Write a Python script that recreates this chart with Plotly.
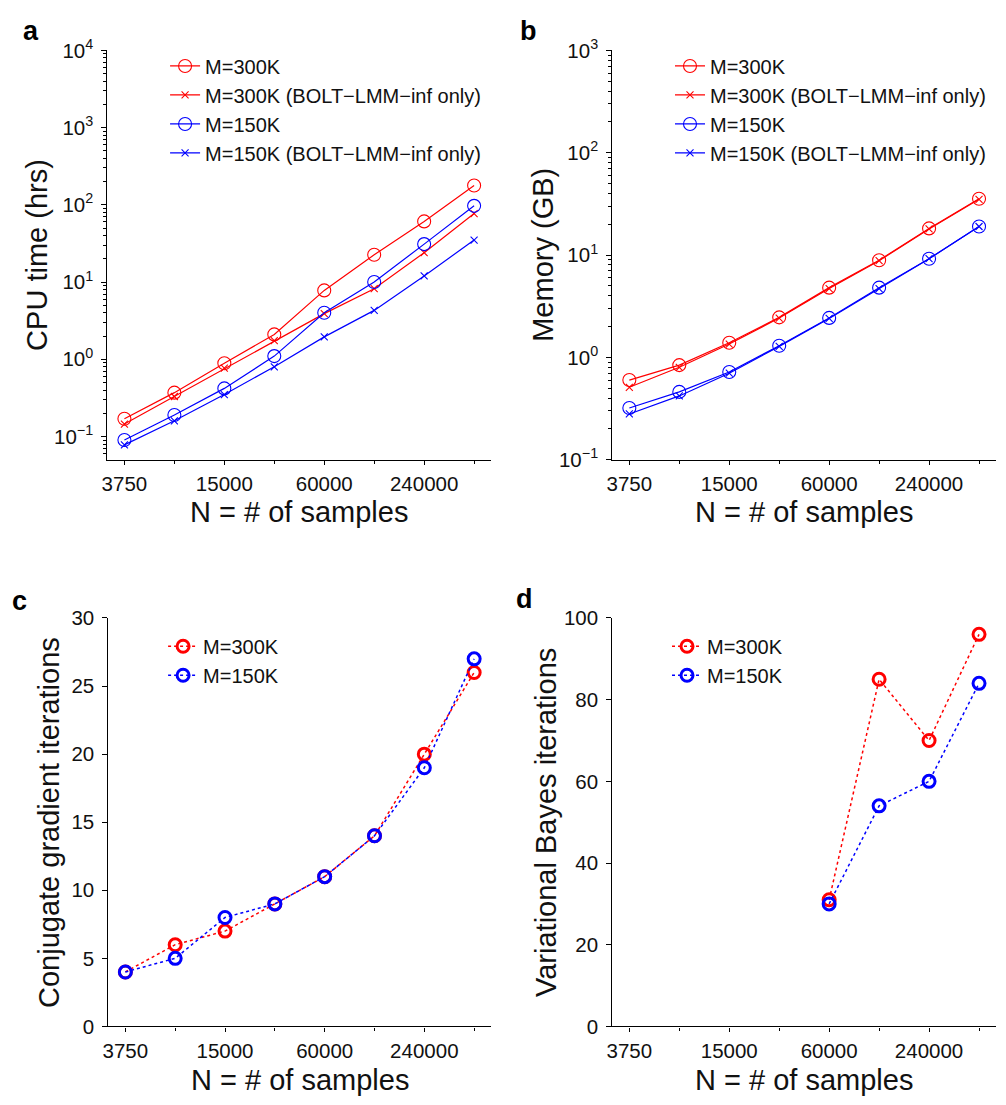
import math
import plotly.graph_objects as go

# ---------------- data ----------------
N = [3750, 7500, 15000, 30000, 60000, 120000, 240000, 480000]
N_labeled = [3750, 15000, 60000, 240000]
N_tick_text = ["3750", "15000", "60000", "240000"]
N_unlabeled = [7500, 30000, 120000, 480000]

cpu_300k = [0.17, 0.37, 0.89, 2.1, 7.8, 22.6, 61, 178]
cpu_300k_inf = [0.145, 0.33, 0.77, 1.74, 3.9, 8.2, 24, 77]
cpu_150k = [0.09, 0.19, 0.42, 1.1, 4.0, 10, 31, 97]
cpu_150k_inf = [0.078, 0.16, 0.35, 0.8, 1.95, 4.3, 12, 35]

mem_300k = [0.60, 0.84, 1.39, 2.46, 4.8, 8.9, 18.2, 35.5]
mem_300k_inf = [0.51, 0.80, 1.35, 2.42, 4.7, 8.8, 18.0, 35.0]
mem_150k = [0.32, 0.46, 0.72, 1.30, 2.43, 4.8, 9.2, 19.0]
mem_150k_inf = [0.28, 0.42, 0.70, 1.28, 2.40, 4.7, 9.2, 19.0]

cg_300k = [4, 6, 7, 9, 11, 14, 20, 26]
cg_150k = [4, 5, 8, 9, 11, 14, 19, 27]

N_vb = [60000, 120000, 240000, 480000]
vb_300k = [31, 85, 70, 96]
vb_150k = [30, 54, 60, 84]

labels4 = ["M=300K", "M=300K (BOLT\u2212LMM\u2212inf only)", "M=150K", "M=150K (BOLT\u2212LMM\u2212inf only)"]
labels2 = ["M=300K", "M=150K"]

RED = "#ff0000"
BLUE = "#0000ff"
FONT = "Liberation Sans, Arial, sans-serif"
PAGE_W, PAGE_H = 1006, 1105
OFF = 8  # default html body margin
W, H = PAGE_W - 2 * OFF, PAGE_H - 2 * OFF

def px_x(p):
    return (p - OFF) / W

def px_y(p):
    return 1 - (p - OFF) / H

fig = go.Figure()

# panel domains (pixels in the final page)
panels = {
    "a": dict(x=(102, 488), y=(37, 456)),
    "b": dict(x=(610, 996), y=(37, 456)),
    "c": dict(x=(103, 488), y=(618, 1036)),
    "d": dict(x=(610, 996), y=(618, 1036)),
}

def add_line(x, y, name, color, symbol, msize, mwidth, lwidth, dash, xa, ya, legend):
    fig.add_trace(go.Scatter(
        x=x, y=y, name=name, mode="lines+markers",
        line=dict(color=color, width=lwidth, dash=dash),
        marker=dict(symbol=symbol, size=msize, color=color,
                    line=dict(color=color, width=mwidth)),
        xaxis=xa, yaxis=ya, legend=legend, showlegend=True,
    ))

# panel a
for y, nm, c, s in [(cpu_300k, labels4[0], RED, "circle-open"),
                    (cpu_300k_inf, labels4[1], RED, "x-thin-open"),
                    (cpu_150k, labels4[2], BLUE, "circle-open"),
                    (cpu_150k_inf, labels4[3], BLUE, "x-thin-open")]:
    ms = 13 if s == "circle-open" else 7
    add_line(N, y, nm, c, s, ms, 1.1, 1.2, "solid", "x", "y", "legend")

# panel b
for y, nm, c, s in [(mem_300k, labels4[0], RED, "circle-open"),
                    (mem_300k_inf, labels4[1], RED, "x-thin-open"),
                    (mem_150k, labels4[2], BLUE, "circle-open"),
                    (mem_150k_inf, labels4[3], BLUE, "x-thin-open")]:
    ms = 13 if s == "circle-open" else 7
    add_line(N, y, nm, c, s, ms, 1.1, 1.2, "solid", "x2", "y2", "legend2")

# panel c
add_line(N, cg_300k, labels2[0], RED, "circle-open", 12, 3, 1.5, "dot", "x3", "y3", "legend3")
add_line(N, cg_150k, labels2[1], BLUE, "circle-open", 12, 3, 1.5, "dot", "x3", "y3", "legend3")

# panel d
add_line(N_vb, vb_300k, labels2[0], RED, "circle-open", 12, 3, 1.5, "dot", "x4", "y4", "legend4")
add_line(N_vb, vb_150k, labels2[1], BLUE, "circle-open", 12, 3, 1.5, "dot", "x4", "y4", "legend4")

xr = [math.log10(3750) - 0.34 * math.log10(2), math.log10(480000) + 0.34 * math.log10(2)]

tickfont = dict(family=FONT, size=20.5, color="#111")

def xaxis_cfg(key):
    d = panels[key]
    return dict(
        domain=[px_x(d["x"][0]), px_x(d["x"][1])],
        type="log", range=xr,
        tickmode="array", tickvals=N_labeled, ticktext=N_tick_text,
        ticks="outside", ticklen=4, tickwidth=1, tickcolor="#000",
        minor=dict(tickmode="array", tickvals=N_unlabeled, ticks="outside", ticklen=3,
                   tickcolor="#000", showgrid=False),
        showline=True, linecolor="#000", linewidth=1.2,
        showgrid=False, zeroline=False, tickfont=tickfont,
        ticklabelstandoff=2,
    )

def sup(e):
    s = ("\u2212" + str(-e)) if e < 0 else str(e)
    return "10<sup>" + s + "</sup>"

def ylog_cfg(key, lo, hi, exps):
    d = panels[key]
    minor_vals = [k * 10 ** e for e in range(math.floor(lo), math.ceil(hi)) for k in range(2, 10)]
    return dict(
        domain=[px_y(d["y"][1]), px_y(d["y"][0])],
        type="log", range=[lo, hi],
        tickmode="array", tickvals=[10 ** e for e in exps], ticktext=[sup(e) for e in exps],
        ticks="outside", ticklen=5, tickwidth=1, tickcolor="#000",
        minor=dict(tickmode="array", tickvals=minor_vals, ticks="outside", ticklen=3,
                   tickcolor="#000", showgrid=False),
        showline=True, linecolor="#000", linewidth=1.2,
        showgrid=False, zeroline=False, tickfont=tickfont,
        ticklabelstandoff=4,
    )

def ylin_cfg(key, hi, dt):
    d = panels[key]
    return dict(
        domain=[px_y(d["y"][1]), px_y(d["y"][0])],
        range=[0, hi], dtick=dt, tick0=0,
        ticks="outside", ticklen=5, tickwidth=1, tickcolor="#000",
        showline=True, linecolor="#000", linewidth=1.2,
        showgrid=False, zeroline=False, tickfont=tickfont,
        ticklabelstandoff=4,
    )

legfont = dict(family=FONT, size=20, color="#111")

def leg(xpx, ypx):
    return dict(x=px_x(xpx), y=px_y(ypx), xanchor="left", yanchor="top",
                bgcolor="rgba(0,0,0,0)", borderwidth=0, font=legfont,
                tracegroupgap=0, itemwidth=30)

fig.update_layout(
    width=W, height=H,
    margin=dict(l=0, r=0, t=0, b=0),
    paper_bgcolor="white", plot_bgcolor="white",
    font=dict(family=FONT, color="#111"),
    xaxis=dict(anchor="y", **xaxis_cfg("a")),
    yaxis=dict(anchor="x", **ylog_cfg("a", -1.3, 4, [-1, 0, 1, 2, 3, 4])),
    xaxis2=dict(anchor="y2", **xaxis_cfg("b")),
    yaxis2=dict(anchor="x2", **ylog_cfg("b", -1, 3, [-1, 0, 1, 2, 3])),
    xaxis3=dict(anchor="y3", **xaxis_cfg("c")),
    yaxis3=dict(anchor="x3", **ylin_cfg("c", 30, 5)),
    xaxis4=dict(anchor="y4", **xaxis_cfg("d")),
    yaxis4=dict(anchor="x4", **ylin_cfg("d", 100, 20)),
    legend=leg(160, 33),
    legend2=leg(668, 33),
    legend3=leg(158, 627),
    legend4=leg(665, 627),
)

ann = []
title_font = dict(family=FONT, size=29, color="#111")
# x titles
for key, ycen in [("a", 510), ("b", 510), ("c", 1091), ("d", 1091)]:
    d = panels[key]
    ann.append(dict(text="N = # of samples", x=px_x((d["x"][0] + d["x"][1]) / 2), y=px_y(ycen),
                    xref="paper", yref="paper", showarrow=False, font=title_font,
                    xanchor="center", yanchor="middle"))
# y titles
for key, txt, xcen in [("a", "CPU time (hrs)", 31), ("b", "Memory (GB)", 540),
                       ("c", "Conjugate gradient iterations", 43), ("d", "Variational Bayes iterations", 543)]:
    d = panels[key]
    ann.append(dict(text=txt, x=px_x(xcen), y=px_y((d["y"][0] + d["y"][1]) / 2),
                    xref="paper", yref="paper", showarrow=False, font=title_font,
                    textangle=-90, xanchor="center", yanchor="middle"))
# panel letters
for letter, xp, yp in [("a", 25, 17), ("b", 526, 17), ("c", 14, 601), ("d", 522, 599)]:
    ann.append(dict(text="<b>" + letter + "</b>", x=px_x(xp), y=px_y(yp), xref="paper", yref="paper",
                    showarrow=False, font=dict(family=FONT, size=27, color="#000"),
                    xanchor="center", yanchor="middle"))
fig.update_layout(annotations=ann)

fig.write_html("out.html")
